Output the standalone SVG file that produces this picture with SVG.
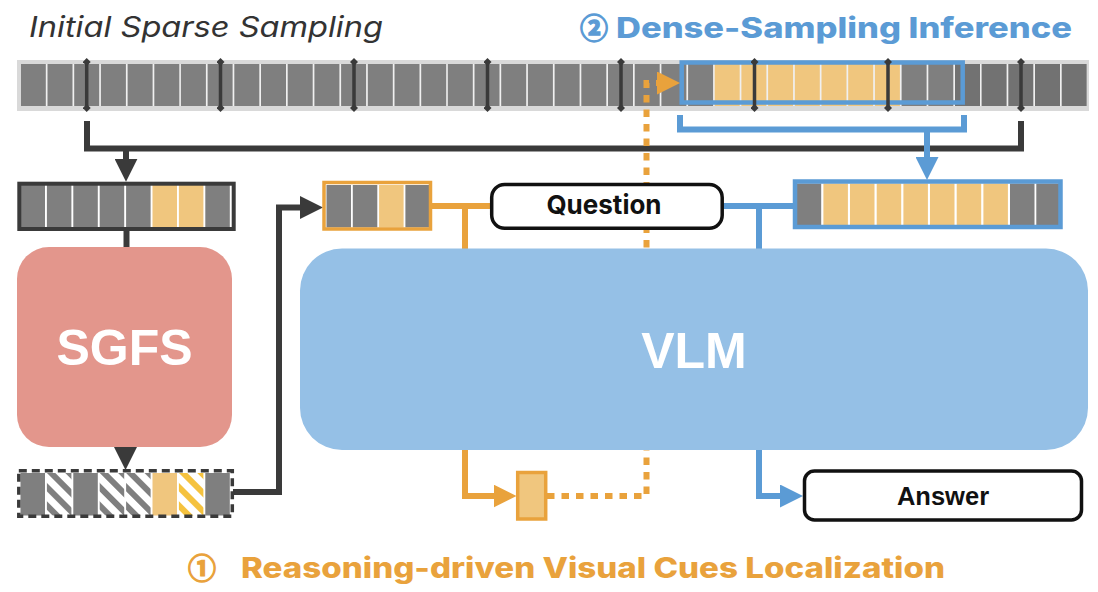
<svg xmlns="http://www.w3.org/2000/svg" width="1098" height="592" viewBox="0 0 1098 592">
<style>
.g{fill:#7f7f7f}.d{fill:#727272}.o{fill:#f0c67e}
.ln{fill:none;stroke-width:6}
.k{stroke:#3a3a3a}.b{stroke:#5b9bd5}.or{stroke:#e9a23c}
.mk{stroke:#3a3a3a;stroke-width:3.5;marker-start:url(#dia);marker-mid:url(#dia);marker-end:url(#dia)}
.title{font-family:Inter,"Liberation Sans",sans-serif;font-weight:800;font-size:28px}
.circ{font-family:"Noto Sans CJK SC","DejaVu Sans",sans-serif;font-weight:700;font-size:28px;stroke-width:1.3}
.big{font-family:"Liberation Sans",Arial,sans-serif;font-weight:700;font-size:50px;fill:#fff;text-anchor:middle}
</style>
<defs>
<rect id="f" width="25" height="42"/>
<rect id="s" width="24.5" height="42.5"/>
<marker id="dia" viewBox="-4 -4 8 8" markerWidth="8" markerHeight="8" markerUnits="userSpaceOnUse" orient="auto"><path d="M-4,0 L0,-4 L4,0 L0,4 z" fill="#3a3a3a"/></marker>
<marker id="aK" viewBox="0 0 23 23" refX="13" refY="11.5" markerWidth="23" markerHeight="23" markerUnits="userSpaceOnUse" orient="auto"><path d="M0,0 L23,11.5 L0,23 z" fill="#3a3a3a"/></marker>
<marker id="aB" viewBox="0 0 23 23" refX="13" refY="11.5" markerWidth="23" markerHeight="23" markerUnits="userSpaceOnUse" orient="auto"><path d="M0,0 L23,11.5 L0,23 z" fill="#5b9bd5"/></marker>
<marker id="aO" viewBox="0 0 23 23" refX="13" refY="11.5" markerWidth="23" markerHeight="23" markerUnits="userSpaceOnUse" orient="auto"><path d="M0,0 L23,11.5 L0,23 z" fill="#e9a23c"/></marker>
<pattern id="hg" width="13" height="13" patternUnits="userSpaceOnUse" patternTransform="rotate(-45)"><rect width="13" height="13" fill="#fff"/><rect width="6" height="13" fill="#7f7f7f"/></pattern>
<pattern id="hy" width="13" height="13" patternUnits="userSpaceOnUse" patternTransform="rotate(-45)"><rect width="13" height="13" fill="#fff"/><rect width="6" height="13" fill="#f5c23e"/></pattern>
</defs>
<rect width="1098" height="592" fill="#fff"/>

<g id="titles">
<text x="29" y="37" font-family="Inter,'Liberation Sans',sans-serif" font-style="italic" font-size="28" fill="#333" textLength="354" lengthAdjust="spacingAndGlyphs">Initial Sparse Sampling</text>
<text x="580" y="39" class="circ" fill="#5b9bd5" stroke="#5b9bd5">②</text>
<text x="616" y="38" class="title" fill="#5b9bd5" textLength="456" lengthAdjust="spacingAndGlyphs">Dense-Sampling Inference</text>
<text x="188" y="579" class="circ" fill="#e9a23c" stroke="#e9a23c">①</text>
<text x="241" y="578" class="title" fill="#e9a23c" textLength="704" lengthAdjust="spacingAndGlyphs">Reasoning-driven Visual Cues Localization</text>
</g>

<g id="video-strip">
<rect x="17" y="60" width="1072" height="51" fill="#d9d9d9"/>
<rect x="20" y="64" width="1067" height="42" fill="#f0f0f0"/>
<g transform="translate(0,64)">
<use href="#f" class="g" x="20.8"/><use href="#f" class="g" x="47.5"/><use href="#f" class="g" x="74.2"/><use href="#f" class="g" x="100.9"/><use href="#f" class="g" x="127.6"/><use href="#f" class="g" x="154.3"/><use href="#f" class="g" x="180.9"/><use href="#f" class="g" x="207.6"/><use href="#f" class="g" x="234.3"/><use href="#f" class="g" x="261"/>
<use href="#f" class="g" x="287.7"/><use href="#f" class="g" x="314.4"/><use href="#f" class="g" x="341.1"/><use href="#f" class="g" x="367.8"/><use href="#f" class="g" x="394.5"/><use href="#f" class="g" x="421.2"/><use href="#f" class="g" x="447.8"/><use href="#f" class="g" x="474.5"/><use href="#f" class="g" x="501.2"/><use href="#f" class="g" x="527.9"/>
<use href="#f" class="g" x="554.6"/><use href="#f" class="g" x="581.3"/><use href="#f" class="g" x="608"/><use href="#f" class="g" x="634.7"/><use href="#f" class="g" x="661.4"/><use href="#f" class="g" x="688.1"/><use href="#f" class="o" x="714.7"/><use href="#f" class="o" x="741.4"/><use href="#f" class="o" x="768.1"/><use href="#f" class="o" x="794.8"/>
<use href="#f" class="o" x="821.5"/><use href="#f" class="o" x="848.2"/><use href="#f" class="o" x="874.9"/><use href="#f" class="g" x="901.6"/><use href="#f" class="g" x="928.3"/><use href="#f" class="d" x="955"/><use href="#f" class="d" x="981.6"/><use href="#f" class="d" x="1008.3"/><use href="#f" class="d" x="1035"/><use href="#f" class="d" x="1061.7"/>
</g>
<rect x="681.7" y="62.5" width="281" height="40" fill="none" stroke="#5b9bd5" stroke-width="4.5"/>
<path class="mk" d="M86.7,62V108M220.5,62V108M354,62V108M487.5,62V108M621,62V108M754.5,62V108M888,62V108M1021,62V108"/>
</g>

<g id="connectors">
<path class="ln k" d="M87,121V148.5H1021V121"/>
<path class="ln k" d="M126,148.5V171.7" marker-end="url(#aK)"/>
<path class="ln k" d="M126.5,230V248"/>
<path class="ln k" d="M125.5,446V460" marker-end="url(#aK)"/>
<path class="ln k" d="M233,492H279V207.5H313" marker-end="url(#aK)"/>
<path class="ln b" d="M680,115V129.5H964V115"/>
<path class="ln b" d="M927,129.5V170" marker-end="url(#aB)"/>
<path class="ln b" d="M723,206H795"/>
<path class="ln b" d="M759,206V496H793" marker-end="url(#aB)"/>
<path class="ln or" d="M431,206H491"/>
<path class="ln or" d="M465,206V496H506.5" marker-end="url(#aO)"/>
<path class="ln or" stroke-width="7.5" stroke-dasharray="7.5 7" d="M547,496H646.5V83H670" marker-end="url(#aO)"/>
</g>

<g id="sparse-frames">
<g transform="translate(0,185)">
<use href="#s" class="g" x="20.5"/><use href="#s" class="g" x="46.9"/><use href="#s" class="g" x="73.3"/><use href="#s" class="g" x="99.7"/><use href="#s" class="g" x="126.1"/><use href="#s" class="o" x="152.5"/><use href="#s" class="o" x="178.9"/><use href="#s" class="g" x="205.3"/>
</g>
<rect x="19.3" y="183.7" width="214.4" height="45.3" fill="none" stroke="#3a3a3a" stroke-width="4"/>
</g>

<g id="sgfs">
<rect x="17" y="247" width="215" height="200" rx="32" fill="#e3968c"/>
<text x="124.5" y="365" class="big">SGFS</text>
</g>

<g id="selected-frames">
<g transform="translate(0,473)">
<use href="#s" class="g" x="20.5"/><use href="#s" fill="url(#hg)" x="46.9"/><use href="#s" class="g" x="73.3"/><use href="#s" fill="url(#hg)" x="99.7"/><use href="#s" fill="url(#hg)" x="126.1"/><use href="#s" class="o" x="152.5"/><use href="#s" fill="url(#hy)" x="178.9"/><use href="#s" class="g" x="205.3"/>
</g>
<rect x="18.8" y="470.8" width="213.5" height="45.5" fill="none" stroke="#3a3a3a" stroke-width="3.5" stroke-dasharray="8 5"/>
</g>

<g id="cue-frames">
<g transform="translate(0,185)">
<use href="#s" class="g" x="326.5"/><use href="#s" class="g" x="352.8"/><use href="#s" class="o" x="379.1"/><use href="#s" class="g" x="405.4"/>
</g>
<rect x="324" y="182.5" width="106.5" height="46.5" fill="none" stroke="#e9a23c" stroke-width="3.5"/>
</g>

<g id="question">
<rect x="491.7" y="184.5" width="230.5" height="43.7" rx="13" fill="#fff" stroke="#111" stroke-width="3.5"/>
<text x="604" y="214" font-family="Inter,'Liberation Sans',sans-serif" font-weight="700" font-size="26" text-anchor="middle" fill="#111">Question</text>
</g>

<g id="dense-frames">
<g transform="translate(0,183.5)">
<use href="#s" class="g" x="796.7"/><use href="#s" class="o" x="823.4"/><use href="#s" class="o" x="850"/><use href="#s" class="o" x="876.7"/><use href="#s" class="o" x="903.4"/><use href="#s" class="o" x="930"/><use href="#s" class="o" x="956.7"/><use href="#s" class="o" x="983.4"/><use href="#s" class="g" x="1010"/><use href="#s" class="g" x="1036.3"/>
</g>
<rect x="795" y="181.5" width="265.5" height="45.5" fill="none" stroke="#5b9bd5" stroke-width="4.5"/>
</g>

<g id="vlm">
<rect x="300" y="248.5" width="788" height="201.5" rx="42" fill="#95c0e6"/>
<text x="694" y="368" class="big">VLM</text>
</g>

<g id="cue">
<rect x="517.7" y="472.5" width="28" height="46.5" fill="#f0c67e" stroke="#e9a23c" stroke-width="3.5"/>
</g>

<g id="answer">
<rect x="804.5" y="471" width="277" height="49" rx="10" fill="#fff" stroke="#111" stroke-width="3.5"/>
<text x="943" y="505" font-family="'Liberation Sans',Arial,sans-serif" font-weight="700" font-size="25.5" text-anchor="middle" fill="#111">Answer</text>
</g>
</svg>
